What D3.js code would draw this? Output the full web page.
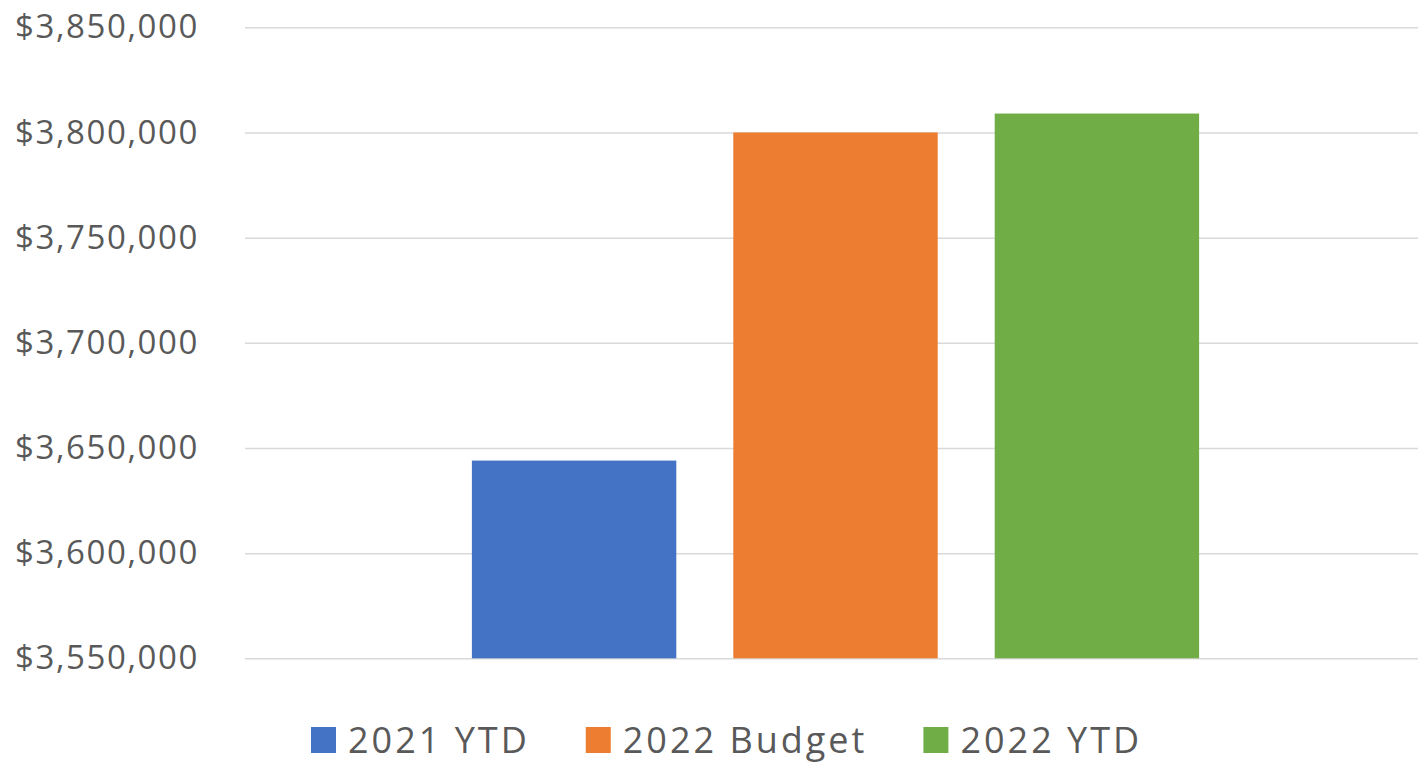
<!DOCTYPE html>
<html>
<head>
<meta charset="utf-8">
<script src="https://cdn.jsdelivr.net/npm/d3@7"></script>
<style>
  html, body { margin: 0; padding: 0; background: #fff; }
  svg { display: block; font-family: "Open Sans", "Noto Sans", sans-serif; }
</style>
</head>
<body>
<div id="chart"></div>
<script>
// Budget comparison - one group of three bars

const categories = [""];
const seriesNames = ["2021 YTD", "2022 Budget", "2022 YTD"];
const seriesValues = [3644000, 3800000, 3809000];
const seriesColors = ["#4472C4", "#ED7D31", "#70AD47"];
const yTicks = [3550000, 3600000, 3650000, 3700000, 3750000, 3800000, 3850000];

const width = 1418;
const height = 763;
const plot = { left: 245, right: 1426, top: 27.3, bottom: 658.3 };

const svg = d3.select("#chart")
    .append("svg")
    .attr("width", width)
    .attr("height", height);

const x0 = d3.scaleBand()
    .domain(categories)
    .range([plot.left, plot.right])
    .paddingOuter(0.312);

const x1 = d3.scaleBand()
    .domain(seriesNames)
    .range([0, x0.bandwidth()])
    .paddingInner(0.218)
    .paddingOuter(0);

const y = d3.scaleLinear()
    .domain([3550000, 3850000])
    .range([plot.bottom, plot.top]);

const fmt = d => "$" + d3.format(",")(d);

// gridlines + tick labels
const yAxis = d3.axisLeft(y)
    .tickValues(yTicks)
    .tickFormat(fmt)
    .tickSize(-(width - plot.left))
    .tickPadding(46);

svg.append("g")
    .attr("transform", `translate(${plot.left},0)`)
    .call(yAxis)
    .call(g => g.select(".domain").remove())
    .call(g => g.selectAll(".tick line")
        .attr("stroke", "#d9d9d9")
        .attr("stroke-width", 1.5))
    .call(g => g.selectAll(".tick text")
        .attr("fill", "#595959")
        .attr("font-size", 33)
        .attr("letter-spacing", "1.6px")
        .attr("font-family", "'Open Sans', sans-serif"));

// bars
const rows = seriesNames.map((name, i) => ({ name, value: seriesValues[i], color: seriesColors[i] }));

svg.append("g")
    .selectAll("g")
    .data(categories)
    .join("g")
    .attr("transform", d => `translate(${x0(d)},0)`)
    .selectAll("rect")
    .data(rows)
    .join("rect")
    .attr("x", d => x1(d.name))
    .attr("width", x1.bandwidth())
    .attr("y", d => y(d.value))
    .attr("height", d => y(3550000) - y(d.value))
    .attr("fill", d => d.color);

// legend
const legend = svg.append("g").attr("transform", "translate(311, 740)");
let lx = 0;
rows.forEach(d => {
    const item = legend.append("g").attr("transform", `translate(${lx},0)`);
    item.append("rect")
        .attr("x", 0)
        .attr("y", -13)
        .attr("width", 25)
        .attr("height", 26)
        .attr("fill", d.color);
    const t = item.append("text")
        .attr("x", 37)
        .attr("y", 13)
        .attr("font-size", 36)
        .attr("letter-spacing", "3px")
        .attr("fill", "#595959")
        .text(d.name);
    lx += 37 + t.node().getComputedTextLength() + 56;
});
</script>
</body>
</html>
